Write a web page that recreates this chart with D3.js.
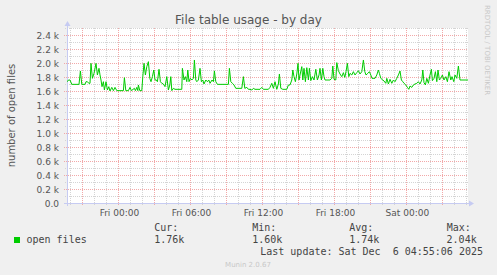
<!DOCTYPE html>
<html><head><meta charset="utf-8">
<script src="https://cdn.jsdelivr.net/npm/d3@7"></script>
<style>
html,body{margin:0;padding:0;background:#f0f0f0;}
svg{display:block;}
</style></head>
<body>
<svg id="c" width="497" height="275"></svg>
<script>
// minutes relative to Fri 2025-12-05 00:00
const minutes = [-255,-250,-242,-233,-197,-190,-183,-167,-162,-155,-148,-142,-137,-130,-122,-112,-105,-97,-92,-87,-82,-75,-70,-62,-55,-48,-42,-33,-25,-17,-8,8,25,30,37,50,58,65,80,85,92,97,100,107,117,122,128,135,142,150,157,163,170,177,183,190,195,203,210,217,225,233,242,250,257,262,267,275,283,317,320,328,335,342,347,353,360,367,375,380,387,392,400,408,415,422,428,437,445,452,458,468,475,480,487,495,550,555,562,570,578,587,617,625,632,
642,650,658,667,675,683,708,717,725,750,758,767,775,783,792,800,805,812,822,842,850,858,867,872,878,885,892,898,903,908,917,922,928,935,942,950,955,962,970,978,987,995,1003,1008,1015,1022,1028,1033,1058,1067,1072,1078,1087,1092,1100,1108,1117,1125,1132,1138,1145,1152,1158,1167,1175,1183,1192,1200,1208,1217,1225,1232,1238,1247,1255,1262,1268,1283,1292,1300,1305,1312,1322,1328,1337,1342,1350,1358,1367,1375,1383,1392,1400,1408,1415,1422,1428,1437,1445,1452,1458,1467,1475,1483,1492,1500,1508,1517,1522,1528,1535,1542,1550,1558,1565,1570,1578,1585,1592,1598,1605,1612,1620,1628,1637,1645,1653,1662,1668,1677,1683,1692,1700,1708,1748];
const openFiles = [1733,1757,1757,1695,1695,1886,1695,1695,1733,1733,1710,1710,1995,1781,1852,1995,1829,1924,1829,1757,1662,1733,1614,1733,1614,1662,1600,1652,1605,1652,1605,1605,1605,1790,1605,1605,1652,1605,1638,1605,1652,1605,1686,1605,1605,1805,1995,1829,1948,2019,1781,1733,1805,1900,1757,1757,1733,1910,1733,1710,1700,1662,1805,1614,1686,1805,1605,1638,1624,1624,1924,1757,1805,1733,1900,1733,1781,1757,1781,2043,1757,1733,1757,1924,1733,1757,1700,1757,1733,1757,1710,1757,1733,1886,1733,1695,1695,1924,1733,1710,1686,1638,1638,1805,1638,
1652,1624,1624,1614,1638,1624,1624,1652,1624,1624,1652,1710,1638,1733,1624,1700,1843,1638,1624,1624,1686,1686,1757,1900,1805,1733,1843,1995,1757,1829,1948,1757,1924,1733,1933,1757,1924,1748,1805,1757,1910,1757,1829,1924,1757,1924,1805,1757,1757,1781,1957,1767,1757,2005,1890,1843,1805,1862,1795,1876,1995,1805,1852,1829,1876,1829,1862,1890,1843,1876,2043,1876,1829,1852,1876,1829,1781,1781,1829,1900,1852,1781,1757,1743,1710,1781,1700,1767,1710,1757,1733,1781,1829,1886,1757,1733,1710,1686,1652,1624,1671,1652,1686,1700,1710,1733,1700,1757,1900,1719,1686,1781,1710,1829,1910,1748,1781,1876,1733,1900,1757,1781,1829,1757,1805,1733,1876,1757,1805,1733,1829,1781,1957,1757,1757];
const yTicks = [0,200,400,600,800,1000,1200,1400,1600,1800,2000,2200,2400];
const yTickLabels = ["0.0","0.2 k","0.4 k","0.6 k","0.8 k","1.0 k","1.2 k","1.4 k","1.6 k","1.8 k","2.0 k","2.2 k","2.4 k"];
const xLabelHours = [0,6,12,18,24];
const xTickLabels = ["Fri 00:00","Fri 06:00","Fri 12:00","Fri 18:00","Sat 00:00"];
const legendStats = [["Cur:","1.76k"],["Min:","1.60k"],["Avg:","1.74k"],["Max:","2.04k"]];
const titleText = "File table usage - by day";
const yAxisTitle = "number of open files";
const lastUpdate = "Last update: Sat Dec  6 04:55:06 2025";

const base = new Date(2025,11,5,0,0,0);
const t = m => new Date(base.getTime() + m*60000);
const data = minutes.map((m,i)=>({d:t(m), v:openFiles[i]}));

const L=67,R=468,T=28,B=203;
const x = d3.scaleTime().domain([t(-257), t(1748)]).range([L,R]);
const y = d3.scaleLinear().domain([0,2500]).range([B,T]);

const svg = d3.select("#c");
svg.append("rect").attr("width",497).attr("height",275).attr("fill","#f0f0f0");
svg.append("rect").attr("x",L).attr("y",T).attr("width",R-L).attr("height",B-T).attr("fill","#fff");

const g = svg.append("g").attr("shape-rendering","crispEdges");
// horizontal grid
const minorY = d3.range(100,2501,200);
g.selectAll(".hm").data(minorY).join("line")
  .attr("x1",L-2).attr("x2",R).attr("y1",d=>Math.round(y(d))+0.5).attr("y2",d=>Math.round(y(d))+0.5)
  .attr("stroke","#d4d4d4").attr("stroke-dasharray","1,1");
g.selectAll(".hM").data(yTicks.slice(1)).join("line")
  .attr("x1",L-3).attr("x2",R).attr("y1",d=>Math.round(y(d))+0.5).attr("y2",d=>Math.round(y(d))+0.5)
  .attr("stroke","#f2a8a8").attr("stroke-dasharray","1,1");
// vertical grid
const hours = d3.timeHour.range(x.domain()[0], x.domain()[1]);
g.selectAll(".vm").data(hours.filter(h=>h.getHours()%3!==0)).join("line")
  .attr("x1",d=>Math.round(x(d))+0.5).attr("x2",d=>Math.round(x(d))+0.5).attr("y1",T).attr("y2",B+2)
  .attr("stroke","#d4d4d4").attr("stroke-dasharray","1,1");
g.selectAll(".vM").data(hours.filter(h=>h.getHours()%3===0)).join("line")
  .attr("x1",d=>Math.round(x(d))+0.5).attr("x2",d=>Math.round(x(d))+0.5).attr("y1",T).attr("y2",B+3)
  .attr("stroke","#f2a8a8").attr("stroke-dasharray","1,1");

// axes
const ac = "#c6cbf2";
g.append("line").attr("x1",L-3).attr("x2",R+2).attr("y1",B+0.5).attr("y2",B+0.5).attr("stroke",ac);
g.append("line").attr("x1",L+0.5).attr("x2",L+0.5).attr("y1",B+3).attr("y2",T-3).attr("stroke",ac);
svg.append("path").attr("d",`M${L-2.5},${T-2}L${L+3.5},${T-2}L${L+0.5},${T-7}Z`).attr("fill",ac);
svg.append("path").attr("d",`M${R+1},${B-2.5}L${R+1},${B+3.5}L${R+6},${B+0.5}Z`).attr("fill",ac);

// line
svg.append("path").datum(data)
  .attr("d", d3.line().x(d=>x(d.d)).y(d=>y(d.v)))
  .attr("fill","none").attr("stroke","#00cc00").attr("stroke-width",1);

// labels
const sans = "DejaVu Sans";
svg.selectAll(".yl").data(yTicks).join("text")
  .attr("x",59).attr("y",d=>y(d)+3.5).attr("text-anchor","end")
  .attr("font-family",sans).attr("font-size",9).attr("fill","#555")
  .text((d,i)=>yTickLabels[i]);
svg.selectAll(".xl").data(xLabelHours).join("text")
  .attr("x",h=>x(t(h*60))+1).attr("y",216).attr("text-anchor","middle")
  .attr("font-family",sans).attr("font-size",9).attr("fill","#555")
  .text((d,i)=>xTickLabels[i]);

svg.append("text").attr("x",248.5).attr("y",24).attr("text-anchor","middle")
  .attr("font-family",sans).attr("font-size",12).attr("fill","#555").text(titleText);
svg.append("text").attr("transform",`translate(15,${(T+B)/2}) rotate(-90)`).attr("text-anchor","middle")
  .attr("font-family",sans).attr("font-size",10).attr("fill","#555").text(yAxisTitle);
svg.append("text").attr("transform","translate(485,5) rotate(90)").attr("text-anchor","start")
  .attr("font-family",sans).attr("font-size",7).attr("fill","#c8c8c8").text("RRDTOOL / TOBI OETIKER");

// legend
const mono = "DejaVu Sans Mono";
svg.append("rect").attr("x",14).attr("y",237).attr("width",6).attr("height",6).attr("fill","#00cc00");
svg.append("text").attr("x",26.5).attr("y",243).attr("font-family",mono).attr("font-size",10).attr("fill","#444").text("open files");
const statX = [154.3,252.3,349.3,446.7];
legendStats.forEach((s,i)=>{
  svg.append("text").attr("x",statX[i]).attr("y",231).attr("font-family",mono).attr("font-size",10).attr("fill","#444").attr("xml:space","preserve").text(s[0]);
  svg.append("text").attr("x",statX[i]+30).attr("y",243).attr("text-anchor","end").attr("font-family",mono).attr("font-size",10).attr("fill","#444").text(s[1]);
});
svg.append("text").attr("x",483).attr("y",255).attr("text-anchor","end").attr("font-family",mono).attr("font-size",10).attr("fill","#444").style("white-space","pre").text(lastUpdate);
svg.append("text").attr("x",248).attr("y",267).attr("text-anchor","middle").attr("font-family",sans).attr("font-size",7).attr("fill","#c8c8c8").text("Munin 2.0.67");
</script>
</body></html>
